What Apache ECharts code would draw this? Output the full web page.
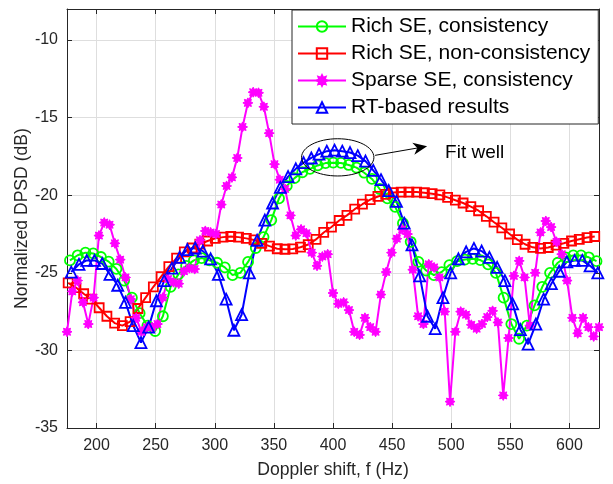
<!DOCTYPE html>
<html>
<head>
<meta charset="utf-8">
<script src="https://cdn.jsdelivr.net/npm/echarts@6.0.0/dist/echarts.min.js"></script>
<style>
  html, body { margin: 0; padding: 0; background: #fff; }
  #dpsdChart { width: 613px; height: 484px; }
</style>
</head>
<body>
<div id="dpsdChart"></div>
<script>
// sampling grid of each curve (Hz): first sample + spacing
var richConsStart = 177.5;
var richNonStart = 176;
var rtStart = 178.6;
var coarseStep = 6.55;
var sparseStart = 175;
var sparseStep = 4.5;

var xTickLabels = [200, 250, 300, 350, 400, 450, 500, 550, 600];
var yTickLabels = [-35, -30, -25, -20, -15, -10];

// Rich SE, consistency (dB)
var richCons = [
  -24.2, -23.87, -23.7, -23.75, -23.98, -24.28, -24.75, -25.5, -26.6, -27.6,
  -28.4, -28.75, -27.8, -25.9, -25.1, -24.55, -24.2, -24.05, -24.2, -24.35,
  -24.65, -25.15, -25.0, -24.3, -23.4, -22.7, -21.6, -20.2, -19.4, -18.9,
  -18.52, -18.3, -18.08, -17.93, -17.9, -17.92, -18.05, -18.22, -18.55, -18.95,
  -19.6, -20.2, -20.75, -21.8, -23.0, -24.3, -24.85, -25.15, -24.95, -24.5,
  -24.25, -24.15, -24.1, -24.18, -24.45, -25.0, -26.6, -28.3, -29.25, -28.4,
  -27.1, -25.9, -25.0, -24.35, -24.0, -23.88, -23.88, -24.0, -24.25
];
// Rich SE, non-consistency (dB)
var richNonCons = [
  -25.65, -25.95, -26.35, -26.7, -27.25, -27.8, -28.24, -28.4, -28.15, -27.3,
  -26.6, -25.9, -25.25, -24.6, -24.05, -23.65, -23.4, -23.15, -22.95, -22.78,
  -22.7, -22.66, -22.7, -22.78, -22.88, -23.1, -23.28, -23.45, -23.48, -23.46,
  -23.35, -23.18, -22.85, -22.4, -22.05, -21.63, -21.3, -20.9, -20.58, -20.28,
  -20.08, -19.94, -19.83, -19.8, -19.8, -19.8, -19.84, -19.9, -19.98, -20.14,
  -20.32, -20.5, -20.73, -21.0, -21.36, -21.74, -22.1, -22.5, -22.86, -23.16,
  -23.36, -23.43, -23.37, -23.22, -23.1, -22.95, -22.84, -22.73, -22.66
];
// Sparse SE, consistency (dB)
var sparseCons = [
  -28.8, -26.2, -25.5, -26.9, -28.3, -26.6, -22.6, -21.76, -21.9, -23.1,
  -24.15, -25.3, -26.7, -27.9, -28.8, -28.5, -28.5, -28.3, -26.6, -25.4,
  -25.6, -25.7, -24.9, -24.7, -24.76, -22.9, -22.3, -22.4, -22.5, -20.6,
  -19.4, -18.85, -17.6, -15.6, -14.05, -13.36, -13.4, -14.3, -16.0, -18.0,
  -19.0, -19.6, -21.3, -22.6, -22.2, -22.45, -23.7, -24.55, -23.95, -23.8,
  -26.3, -27.0, -26.9, -27.4, -28.8, -29.0, -27.9, -28.5, -28.8, -26.4,
  -24.95, -23.7, -22.8, -22.2, -22.5, -24.8, -27.8, -28.3, -24.45, -24.65,
  -25.3, -27.5, -33.3, -28.8, -27.5, -27.7, -28.35, -28.6, -28.3, -27.85,
  -27.45, -28.2, -32.9, -29.2, -25.2, -24.23, -25.3, -28.4, -25.0, -22.4,
  -21.66, -22.05, -23.0, -23.8, -25.5, -27.9, -28.9, -27.9, -28.5, -29.1,
  -28.5
];
// RT-based results (dB)
var rtResults = [
  -24.95, -24.45, -24.2, -24.2, -24.4, -25.1, -25.8, -26.9, -28.4, -29.5,
  -28.5, -26.8, -25.5, -24.7, -24.0, -23.5, -23.4, -23.6, -24.1, -25.1,
  -26.7, -28.7, -27.7, -25.0, -22.9, -21.6, -20.5, -19.5, -18.8, -18.3,
  -17.9, -17.6, -17.35, -17.16, -17.1, -17.16, -17.25, -17.45, -17.8, -18.4,
  -19.0, -19.7, -20.4, -21.8, -23.2, -25.2, -27.8, -28.6, -26.6, -25.0,
  -24.1, -23.65, -23.43, -23.6, -24.0, -24.65, -25.5, -27.0, -28.66, -29.6,
  -28.3, -26.7, -25.7, -24.9, -24.3, -24.2, -24.2, -24.55, -25.0
];

var FONT = '"Liberation Sans", Arial, Helvetica, sans-serif';
var AXIS_COLOR = '#262626';
// asterisk-like marker (fat 8 point star)
var STAR = 'path://M0,-10L2.3,-5.5L7.07,-7.07L5.5,-2.3L10,0L5.5,2.3L7.07,7.07L2.3,5.5L0,10L-2.3,5.5L-7.07,7.07L-5.5,2.3L-10,0L-5.5,-2.3L-7.07,-7.07L-2.3,-5.5Z';

function toPoints(start, step, vals) {
  return vals.map(function (v, i) { return [start + i * step, v]; });
}

function curve(name, color, symbol, size, pts) {
  var hollow = symbol !== STAR;
  return {
    name: name,
    type: 'line',
    data: pts,
    symbol: symbol,
    symbolSize: size,
    lineStyle: { color: color, width: 2 },
    itemStyle: {
      color: hollow ? 'rgba(0,0,0,0)' : color,
      borderColor: color,
      borderWidth: hollow ? 1.8 : 1
    },
    emphasis: { disabled: true }
  };
}

var myChart = echarts.init(document.getElementById('dpsdChart'));

var boxAxis = {
  axisLine: { show: true, lineStyle: { color: AXIS_COLOR, width: 1 } },
  axisTick: { show: true, inside: true, length: 5, lineStyle: { color: AXIS_COLOR } },
  axisLabel: { show: false },
  splitLine: { show: false }
};

myChart.setOption({
  animation: false,
  backgroundColor: '#fff',
  grid: { left: 67, right: 14, top: 9, bottom: 55 },
  legend: {
    orient: 'vertical',
    left: 292,
    top: 10,
    padding: [6, 8, 6, 5],
    itemGap: 6,
    itemWidth: 48,
    itemHeight: 13,
    selectedMode: false,
    backgroundColor: '#fff',
    borderColor: AXIS_COLOR,
    borderWidth: 1,
    textStyle: { fontSize: 21, color: '#000', fontFamily: FONT }
  },
  xAxis: [
    {
      type: 'value', min: 175, max: 625, splitNumber: 9,
      name: 'Doppler shift, f (Hz)', nameLocation: 'middle', nameGap: 33,
      nameMoveOverlap: false,
      nameTextStyle: { fontSize: 17.6, color: AXIS_COLOR, fontFamily: FONT },
      axisLine: { show: true, lineStyle: { color: AXIS_COLOR, width: 1 } },
      axisTick: { show: true, inside: true, length: 5, lineStyle: { color: AXIS_COLOR } },
      axisLabel: {
        fontSize: 16, color: AXIS_COLOR, fontFamily: FONT, margin: 10,
        formatter: function (v) { return xTickLabels.indexOf(v) >= 0 ? String(v) : ''; }
      },
      splitLine: { show: true, lineStyle: { color: '#dedede', width: 1 } }
    },
    Object.assign({ type: 'value', position: 'top', min: 175, max: 625, splitNumber: 9 }, boxAxis)
  ],
  yAxis: [
    {
      type: 'value', min: -35, max: -8, interval: 5,
      name: 'Normalized DPSD (dB)', nameLocation: 'middle', nameGap: 36,
      nameMoveOverlap: false,
      nameTextStyle: { fontSize: 17.6, color: AXIS_COLOR, fontFamily: FONT },
      axisLine: { show: true, lineStyle: { color: AXIS_COLOR, width: 1 } },
      axisTick: { show: true, inside: true, length: 5, lineStyle: { color: AXIS_COLOR } },
      axisLabel: {
        fontSize: 16, color: AXIS_COLOR, fontFamily: FONT, margin: 9,
        formatter: function (v) { return yTickLabels.indexOf(v) >= 0 ? String(v) : ''; }
      },
      splitLine: { show: true, lineStyle: { color: '#dedede', width: 1 } }
    },
    Object.assign({ type: 'value', position: 'right', min: -35, max: -8, interval: 5 }, boxAxis)
  ],
  series: [
    curve('Rich SE, consistency', '#00ff00', 'circle', 10, toPoints(richConsStart, coarseStep, richCons)),
    curve('Rich SE, non-consistency', '#ff0000', 'rect', 9, toPoints(richNonStart, coarseStep, richNonCons)),
    curve('Sparse SE, consistency', '#ff00ff', STAR, 10, toPoints(sparseStart, sparseStep, sparseCons)),
    curve('RT-based results', '#0000ff', 'triangle', 11, toPoints(rtStart, coarseStep, rtResults))
  ]
});

// "Fit well" annotation: ellipse round the peak + arrow + text (data units)
function px(f, v) { return myChart.convertToPixel({ gridIndex: 0 }, [f, v]); }
var ellC = px(404, -17.56);
var ellE = px(434.6, -16.36);
var arrFrom = px(435.6, -17.43);
var arrTo = px(479.6, -16.85);
var txtAt = px(494.8, -17.25);

var dx = arrTo[0] - arrFrom[0], dy = arrTo[1] - arrFrom[1];
var len = Math.sqrt(dx * dx + dy * dy);
var ux = dx / len, uy = dy / len;
var head = [
  arrTo,
  [arrTo[0] - 14 * ux - 6 * uy, arrTo[1] - 14 * uy + 6 * ux],
  [arrTo[0] - 10 * ux, arrTo[1] - 10 * uy],
  [arrTo[0] - 14 * ux + 6 * uy, arrTo[1] - 14 * uy - 6 * ux]
];

myChart.setOption({
  graphic: [
    {
      type: 'ellipse', z: 100,
      shape: { cx: ellC[0], cy: ellC[1], rx: ellE[0] - ellC[0], ry: ellC[1] - ellE[1] },
      style: { fill: 'none', stroke: '#000', lineWidth: 1 }
    },
    {
      type: 'line', z: 100,
      shape: { x1: arrFrom[0], y1: arrFrom[1], x2: arrTo[0] - 10 * ux, y2: arrTo[1] - 10 * uy },
      style: { stroke: '#000', lineWidth: 1 }
    },
    { type: 'polygon', z: 100, shape: { points: head }, style: { fill: '#000' } },
    {
      type: 'text', z: 100, x: txtAt[0], y: txtAt[1],
      style: { text: 'Fit well', fontSize: 19, fontFamily: FONT, fill: '#000', verticalAlign: 'middle' }
    }
  ]
});
</script>
</body>
</html>
